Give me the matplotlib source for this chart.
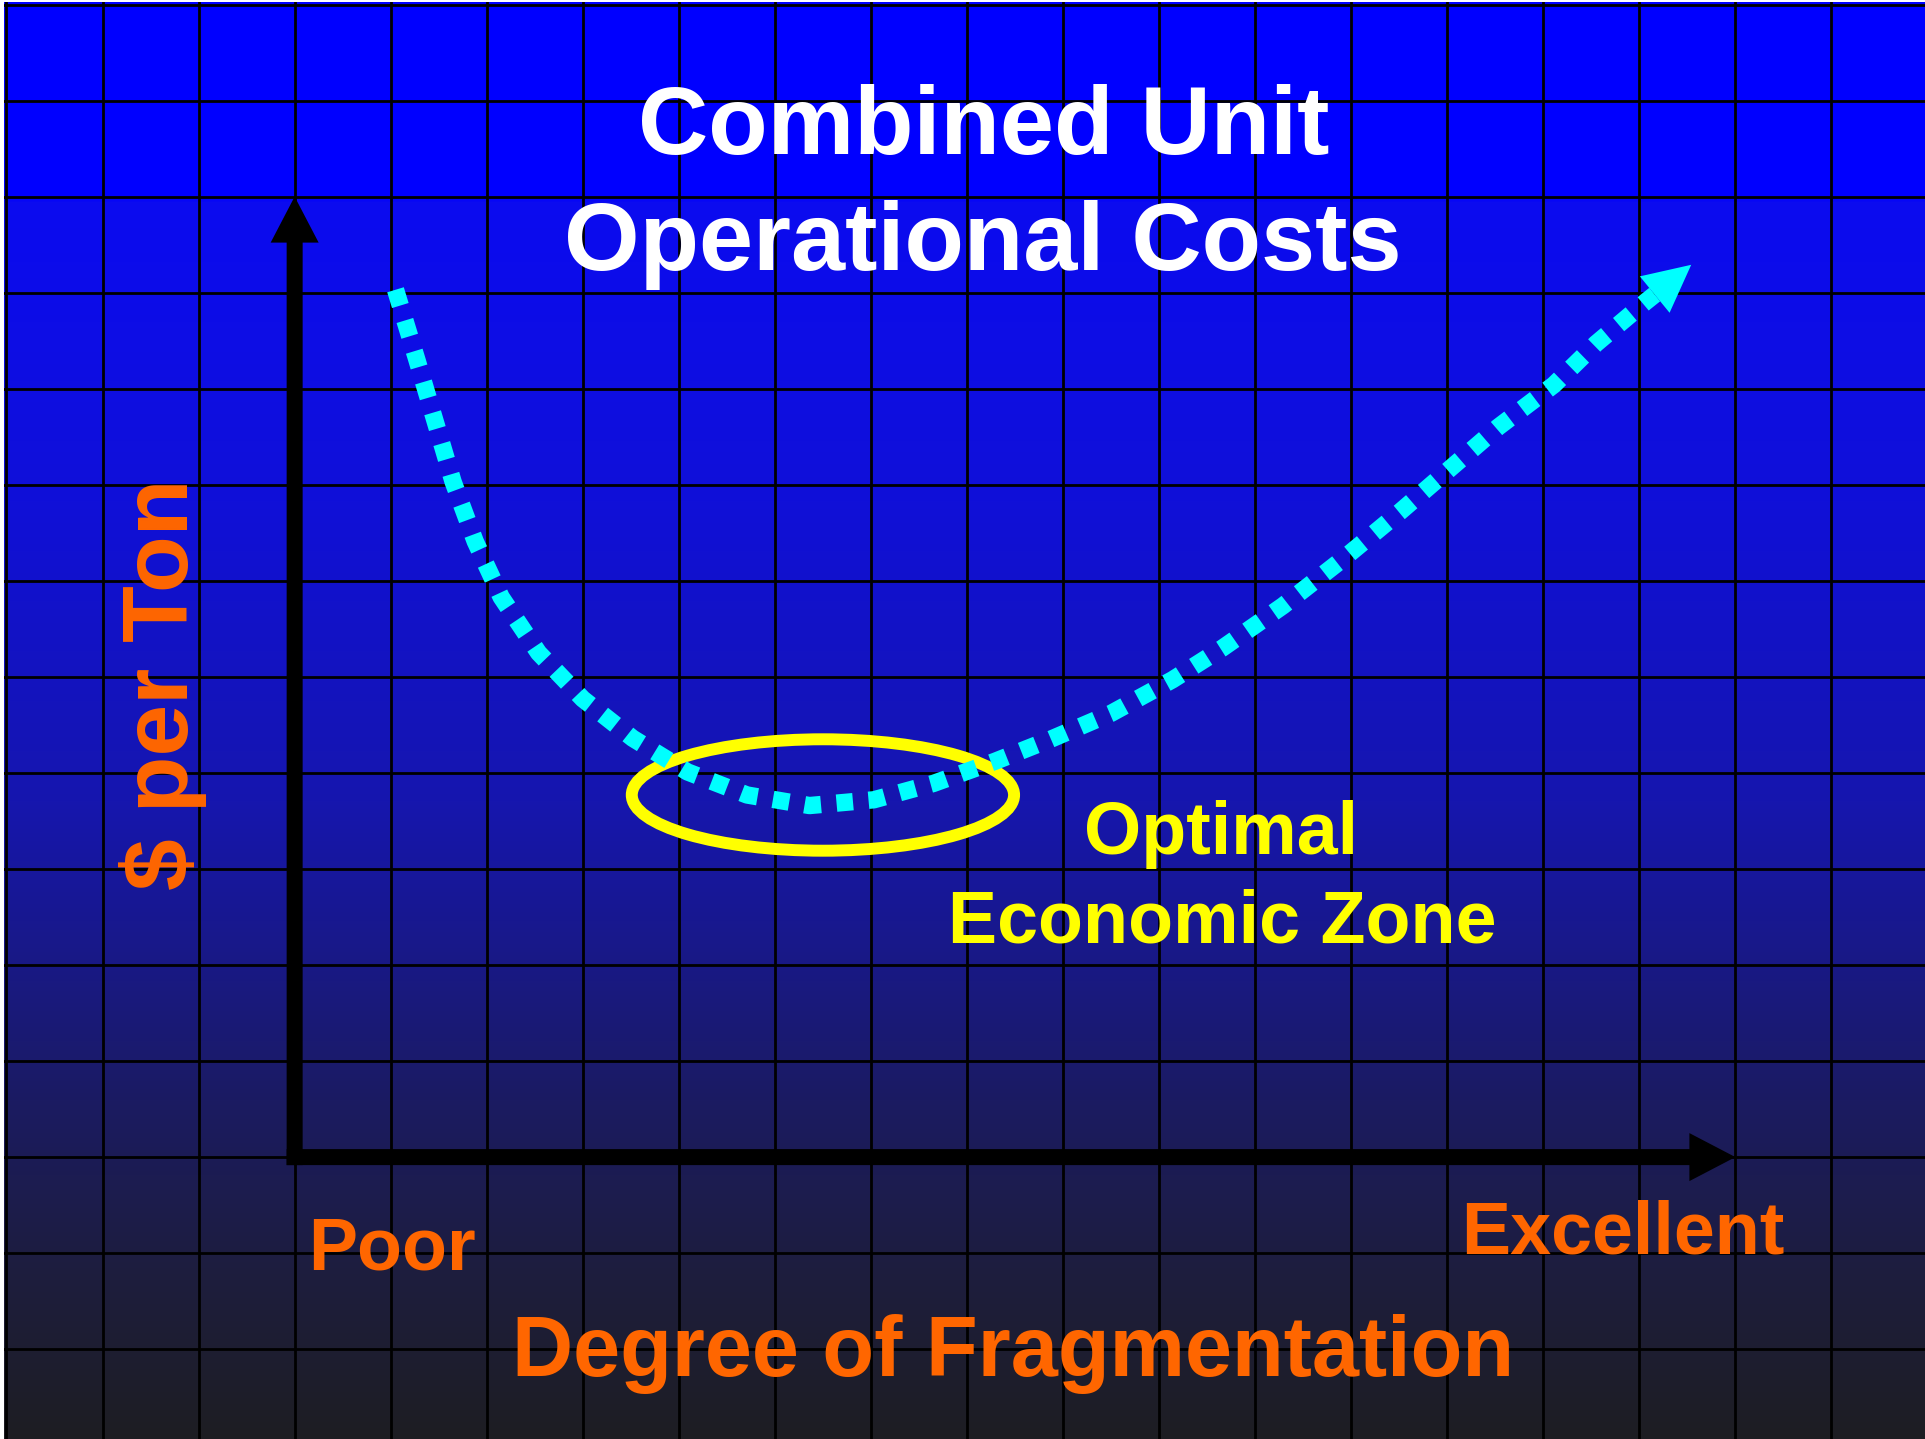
import numpy as np
import matplotlib
matplotlib.use("Agg")
import matplotlib.pyplot as plt
from matplotlib.patches import Ellipse

# ---------------- data (grid units, origin at the axes corner) ----------------
title_lines = ["Combined Unit", "Operational Costs"]
y_label = r"\$ per Ton"
x_label = "Degree of Fragmentation"
x_low_label = "Poor"
x_high_label = "Excellent"
zone_lines = ["Optimal", "Economic Zone"]

cost_x = [1.05, 1.27, 1.46, 1.65, 1.88, 2.15, 2.54, 3.00, 3.52, 4.09, 4.71,
          5.36, 6.03, 6.65, 7.29, 7.87, 8.50, 9.14, 9.66, 10.29, 10.93,
          11.51, 12.02, 12.53, 13.11, 13.55, 14.06, 14.16]
cost_y = [9.03, 8.31, 7.67, 7.03, 6.41, 5.83, 5.25, 4.77, 4.36, 4.01, 3.77,
          3.66, 3.72, 3.89, 4.12, 4.35, 4.62, 4.97, 5.30, 5.74, 6.24,
          6.72, 7.16, 7.60, 8.04, 8.47, 8.90, 8.98]
cost_tip = (14.54, 9.29)

zone_center = (5.50, 3.77)
zone_width = 3.98
zone_height = 1.16

x_axis_max = 15.0
y_axis_max = 10.0

# ---------------- figure ----------------
W, H, DPI = 1925, 1439, 100
PX = 96.05  # pixels per grid unit

fig = plt.figure(figsize=(W / DPI, H / DPI), dpi=DPI, facecolor="white")
ax = fig.add_axes([4 / W, 0, 1921 / W, 1437 / H])
x0 = -3 - 2.5 / PX
x1 = x0 + 1921 / PX
y1 = 12 + 2.5 / PX
y0 = y1 - 1437 / PX
ax.set_xlim(x0, x1)
ax.set_ylim(y0, y1)
ax.axis("off")

# background gradient (blue -> dark grey)
stops_py = [0, 195, 200, 500, 800, 1100, 1250, 1439]
stops_rgb = np.array([(0, 0, 255), (0, 0, 255), (11, 11, 240), (16, 16, 216),
                      (22, 22, 174), (27, 27, 98), (29, 29, 66), (30, 30, 34)]) / 255.0
rows = np.arange(1439)
img = np.stack([np.interp(rows, stops_py, stops_rgb[:, c]) for c in range(3)], axis=-1)
img = img[:, None, :]
ax.imshow(img, extent=(x0, x1, y0, y1), aspect="auto", origin="upper", zorder=0,
          interpolation="nearest")

# grid
for gx in range(-3, 17):
    ax.axvline(gx, color="black", lw=2.0, zorder=1)
for gy in range(-2, 13):
    ax.axhline(gy, color="black", lw=2.0, zorder=1)

# axes arrows
arrow_kw = dict(width=16 / PX, head_width=48 / PX, head_length=46 / PX,
                length_includes_head=True, fc="black", ec="none", zorder=3)
ax.arrow(-8 / PX, 0, x_axis_max + 8 / PX, 0, **arrow_kw)
ax.arrow(0, -8 / PX, 0, y_axis_max + 8 / PX, **arrow_kw)

# optimal zone ellipse
ax.add_patch(Ellipse(zone_center, zone_width, zone_height, fill=False,
                     ec="#FFFF00", lw=8.6, zorder=4))

# cost curve (dotted) with arrow head
ax.plot(cost_x, cost_y, color="#00FFFF", lw=12.5, linestyle=(0, (0.95, 0.9)),
        dash_capstyle="butt", zorder=5)
bx, by = cost_x[-1], cost_y[-1]
ax.arrow(bx, by, cost_tip[0] - bx, cost_tip[1] - by, width=0.01,
         head_width=47 / PX, head_length=np.hypot(cost_tip[0] - bx, cost_tip[1] - by),
         length_includes_head=True, fc="#00FFFF", ec="none", zorder=5)

# texts
font = dict(family=["Liberation Sans", "DejaVu Sans"], weight="bold")
ax.text(7.17, 10.44, title_lines[0], color="white", fontsize=70, ha="center",
        va="baseline", zorder=6, **font)
ax.text(7.16, 9.24, title_lines[1], color="white", fontsize=70, ha="center",
        va="baseline", zorder=6, **font)

ax.text(-1.11, 4.92, y_label, color="#FF6600", fontsize=67, rotation=90,
        rotation_mode="anchor", ha="center", va="baseline", zorder=6, **font)

ax.text(1.01, -1.17, x_low_label, color="#FF6600", fontsize=53, ha="center",
        va="baseline", zorder=6, **font)
ax.text(13.83, -1.00, x_high_label, color="#FF6600", fontsize=53, ha="center",
        va="baseline", zorder=6, **font)
ax.text(7.48, -2.28, x_label, color="#FF6600", fontsize=61, ha="center",
        va="baseline", zorder=6, **font)

ax.text(9.65, 3.16, zone_lines[0], color="#FFFF00", fontsize=53, ha="center",
        va="baseline", zorder=6, **font)
ax.text(9.66, 2.23, zone_lines[1], color="#FFFF00", fontsize=53, ha="center",
        va="baseline", zorder=6, **font)

fig.savefig("out.png", dpi=DPI, facecolor="white")
